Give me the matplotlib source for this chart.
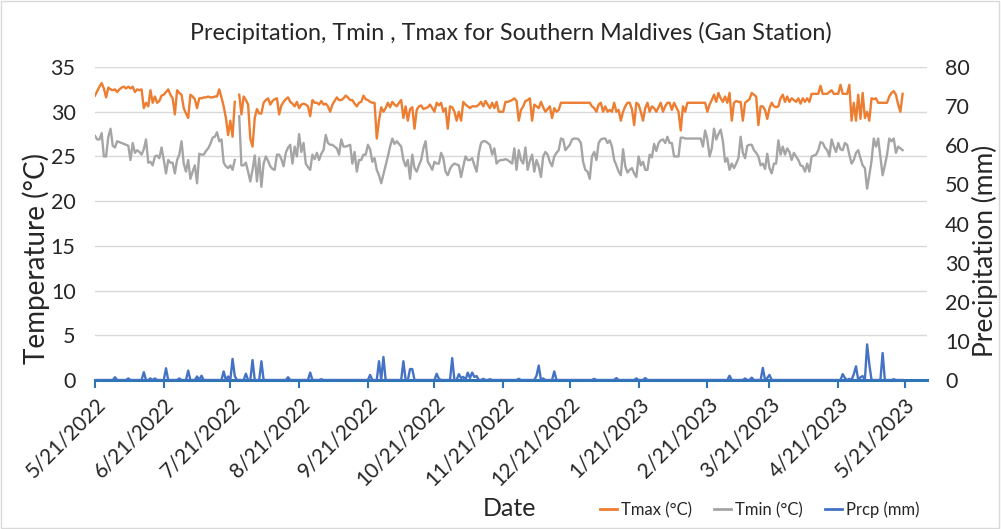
import numpy as np
import pandas as pd
import matplotlib
matplotlib.use("Agg")
import matplotlib.pyplot as plt
from matplotlib.lines import Line2D

nan = float("nan")
start_date = "2022-05-21"

tmax = [
31.8, 32.3, 32.8, 33.2, 32.6, 31.6, 32.7, 32.5, 32.4, 32.5,
32.2, 32.5, 32.7, 32.8, 32.6, 32.8, 32.6, 32.8, 32.2, 32.5,
32.4, 32.5, 30.4, 31.0, 30.6, 32.4, 31.0, 31.7, 31.0, 31.2,
31.8, 31.9, 32.2, 32.5, 31.9, 31.5, 29.7, 32.4, 32.1, 31.9,
30.4, 29.8, 29.3, 31.9, 31.7, 31.4, 30.4, 31.5, 31.5, 31.6,
31.6, 31.7, 31.6, 31.6, 31.7, 31.7, 32.5, 31.6, 30.6, 29.3,
27.4, 29.0, 27.2, 31.1, nan, 31.9, 29.7, 31.7, 31.3, 30.8,
27.0, 26.1, 29.3, 30.3, 29.8, 29.8, 31.0, 31.3, 31.5, 30.8,
31.2, 31.4, 31.5, 29.7, 30.7, 31.1, 31.4, 31.6, 31.1, 30.9,
30.6, 31.1, 30.4, 30.8, 30.9, 30.8, 30.6, 29.5, 31.3, 31.0,
31.0, 30.8, 31.2, 30.8, 30.9, 30.6, 30.0, 30.8, 31.2, 31.6,
31.3, 31.3, 31.5, 31.8, 31.6, 31.3, 31.3, 30.9, 30.6, 31.0,
31.1, 31.8, 31.4, 31.3, 31.1, 31.0, 31.0, 27.0, 29.0, 30.5,
30.0, 30.4, 31.0, 30.5, 31.1, 30.8, 30.6, 31.0, 31.3, 29.3,
30.6, 29.0, 30.3, 30.5, 28.1, 30.2, 30.6, 30.7, 30.3, 30.4,
30.5, 30.8, 30.4, 30.0, 31.0, 30.7, 31.0, 30.0, 30.4, 28.1,
30.6, 30.5, 30.0, 29.0, 30.0, 29.0, 31.1, 30.8, 30.6, 30.4,
30.6, 30.6, 30.6, 30.8, 31.1, 30.6, 31.2, 30.8, 30.4, 31.0,
30.4, 31.1, 30.0, 30.0, 30.0, 31.1, 31.1, 31.2, 31.3, 31.5,
31.2, 29.0, 30.2, 30.6, 31.2, 31.3, 31.5, 29.0, 30.8, 30.6,
30.4, 31.1, 30.5, 30.0, 30.3, 30.6, 29.3, 30.4, 30.0, 30.2,
31.0, 31.0, 31.0, 31.0, 31.0, 31.0, 31.0, 31.0, 31.0, 31.0,
31.0, 31.0, 31.0, 31.0, 30.6, 30.4, 30.0, 30.8, 31.0, 30.0,
30.6, 30.0, 30.2, 30.0, 31.0, 30.0, 30.2, 29.0, 30.0, 30.6,
31.0, 31.0, 30.3, 28.5, 31.0, 30.8, 30.0, 29.0, 30.4, 31.0,
30.0, 30.6, 30.4, 30.0, 30.5, 31.0, 30.0, 30.6, 31.0, 31.0,
30.2, 31.0, 30.5, 30.0, 27.9, 30.6, 30.0, 31.0, 31.0, 31.0,
31.0, 31.0, 31.0, 31.0, 31.0, 31.0, 30.0, 30.8, 31.3, 31.9,
31.1, 32.1, 31.5, 31.1, 31.7, 31.0, 32.1, 29.0, 31.0, 31.2,
31.1, 31.1, 29.0, 31.0, 31.2, 31.4, 32.1, 31.9, 31.7, 28.5,
30.6, 30.6, 30.2, 29.2, 30.4, 31.0, 30.6, 30.5, 30.6, 31.5,
31.9, 31.1, 31.7, 31.1, 31.5, 31.3, 31.1, 31.5, 30.9, 31.5,
31.1, 31.5, 31.1, 32.0, 32.0, 32.0, 32.0, 32.9, 32.0, 32.0,
32.0, 32.2, 32.4, 32.0, 32.0, 32.0, 33.0, 32.0, 32.0, 32.0,
33.0, 29.0, 31.0, 29.0, 31.9, 29.2, 32.1, 29.3, 30.0, 29.0,
31.5, 31.4, 31.5, 31.0, 31.0, 31.0, 31.0, 31.0, 31.7, 32.1,
32.3, 31.9, 30.8, 30.0, 32.0,
]

tmin = [
27.3, 26.9, 26.9, 27.6, 25.0, 25.0, 27.2, 28.1, 26.2, 26.0,
26.7, 26.6, 26.5, 26.4, 26.3, 26.2, 24.6, 26.5, 25.4, 25.7,
25.5, 25.2, 25.8, 26.9, 24.3, 24.4, 24.0, 25.0, 25.1, 24.8,
26.0, 24.6, 23.1, 24.6, 24.3, 24.3, 23.1, 24.6, 25.2, 26.7,
24.2, 23.3, 24.6, 22.5, 23.3, 24.0, 22.0, 25.3, 25.2, 25.2,
25.6, 25.9, 26.4, 27.1, 27.2, 27.7, 26.7, 26.9, 24.3, 23.9,
23.7, 24.0, 23.5, 24.6, nan, 29.5, 24.0, 24.0, 24.3, 23.3,
22.2, 23.5, 25.1, 22.2, 24.8, 21.6, 24.2, 25.0, 24.5, 23.9,
23.6, 23.5, 25.2, 25.2, 24.7, 23.9, 25.4, 26.0, 26.3, 24.2,
26.1, 25.0, 27.5, 25.5, 26.5, 24.2, 23.8, 23.5, 25.2, 24.7,
25.4, 24.6, 25.3, 25.7, 27.4, 26.5, 26.3, 26.3, 26.1, 25.9,
25.2, 26.9, 26.1, 26.1, 26.2, 26.3, 24.2, 25.5, 23.3, 24.6,
24.6, 25.2, 25.2, 26.3, 25.8, 24.4, 24.8, 23.5, 22.9, 22.0,
23.0, 24.0, 25.0, 26.1, 27.0, 26.4, 26.7, 26.4, 26.1, 24.6,
23.9, 24.6, 22.5, 25.2, 23.7, 23.3, 24.0, 24.6, 25.9, 26.7,
24.4, 24.0, 23.5, 24.4, 24.2, 24.2, 25.4, 24.8, 23.3, 22.9,
23.6, 24.0, 24.2, 24.1, 24.0, 22.7, 23.9, 25.0, 24.6, 24.6,
24.8, 24.0, 23.3, 25.4, 26.5, 26.7, 26.7, 26.5, 26.3, 25.2,
25.9, 24.2, 24.5, 24.6, 24.6, 24.7, 24.6, 24.4, 24.2, 25.9,
23.5, 25.7, 24.6, 24.2, 26.0, 23.5, 24.5, 25.2, 23.3, 24.6,
23.9, 22.7, 25.0, 25.5, 25.2, 24.4, 23.9, 25.0, 25.4, 25.7,
27.0, 26.9, 25.7, 26.0, 26.3, 26.9, 27.0, 27.0, 26.9, 26.5,
24.4, 23.5, 23.3, 22.5, 25.0, 25.5, 24.6, 26.5, 26.9, 27.0,
27.0, 26.5, 26.8, 26.1, 24.6, 24.0, 23.3, 22.9, 25.8, 23.9,
23.2, 23.5, 23.7, 23.1, 22.7, 25.0, 24.0, 24.4, 23.5, 23.5,
25.2, 24.9, 26.4, 25.6, 26.5, 26.8, 26.9, 26.5, 27.2, 26.5,
26.5, 25.0, 25.0, 25.0, 27.1, 27.1, 27.0, 27.0, 27.0, 27.0,
27.0, 27.0, 27.0, 27.0, 26.1, 27.9, 26.9, 25.0, 25.9, 28.1,
26.9, 27.5, 28.0, 26.7, 24.4, 24.8, 23.5, 24.2, 23.7, 24.2,
24.8, 27.2, 25.4, 24.8, 26.2, 26.3, 26.3, 25.7, 25.4, 25.0,
24.0, 24.2, 23.6, 25.3, 23.7, 23.1, 24.2, 24.2, 26.8, 25.2,
26.1, 25.2, 25.9, 25.5, 24.6, 25.4, 25.0, 24.6, 24.0, 23.9,
23.3, 24.2, 23.3, 25.0, 25.1, 25.2, 25.7, 26.6, 26.5, 26.0,
25.7, 25.0, 26.9, 26.1, 25.5, 26.5, 25.8, 25.7, 26.5, 26.3,
25.2, 24.2, 24.6, 25.4, 25.7, 24.8, 24.0, 23.7, 21.4, 22.9,
24.5, 27.0, 26.1, 27.0, 25.0, 22.9, 24.0, 25.2, 27.0, 26.7,
27.0, 25.4, 26.1, 25.9, 25.7,
]

# wet days (day index from start) and their rainfall; all other days are dry (0 mm)
rain_days = [9, 15, 22, 25, 27, 32, 38, 42, 46, 48, 58, 60, 62, 63, 68, 71, 75,
             87, 97, 102, 124, 128, 130, 139, 142, 143, 154, 155, 161, 164, 165,
             166, 168, 169, 170, 171, 172, 175, 178, 191, 199, 200, 202, 207,
             225, 235, 244, 248, 286, 293, 296, 301, 303, 304, 337, 338, 340,
             342, 343, 345, 346, 348, 349, 355, 360]
rain_mm = [0.7, 0.4, 2.0, 0.4, 0.4, 3.0, 0.4, 2.4, 0.9, 1.1, 2.2, 0.9, 5.4, 1.0, 1.6, 5.1, 4.8,
           0.7, 1.9, 0.2, 1.3, 4.8, 5.9, 4.8, 2.8, 2.8, 1.6, 0.3, 5.6, 1.5, 0.5,
           0.8, 1.9, 0.5, 1.9, 0.8, 1.0, 0.3, 0.2, 0.3, 1.1, 3.7, 0.4, 2.2,
           0.3, 0.5, 0.4, 0.5, 1.1, 0.4, 0.6, 3.1, 0.5, 1.3, 1.5, 0.5, 0.3,
           1.5, 3.5, 0.7, 1.0, 9.1, 4.0, 6.9, 0.2]

tick_dates = ["2022-05-21", "2022-06-21", "2022-07-21", "2022-08-21", "2022-09-21",
              "2022-10-21", "2022-11-21", "2022-12-21", "2023-01-21", "2023-02-21",
              "2023-03-21", "2023-04-21", "2023-05-21"]
tick_labels = ["5/21/2022", "6/21/2022", "7/21/2022", "8/21/2022", "9/21/2022",
               "10/21/2022", "11/21/2022", "12/21/2022", "1/21/2023", "2/21/2023",
               "3/21/2023", "4/21/2023", "5/21/2023"]

dates = pd.date_range(start_date, periods=len(tmax), freq="D")
prcp = pd.Series(0.0, index=dates)
prcp.iloc[rain_days] = rain_mm

plt.rcParams["font.family"] = ["Lato", "DejaVu Sans"]
TXT = "#262626"

fig = plt.figure(figsize=(10.01, 5.29), dpi=100)
ax = fig.add_axes([95/1001, 1 - 380/529, (927-95)/1001, (380-67)/529])
ax2 = ax.twinx()

ax.plot(dates, tmax, color="#ED7D31", lw=1.7, zorder=3)
ax.plot(dates, tmin, color="#A5A5A5", lw=1.7, zorder=3)
ax2.plot(dates, prcp.values, color="#4472C4", lw=1.7, zorder=3)

x0 = pd.Timestamp(start_date)
ax.set_xlim(x0, x0 + pd.Timedelta(days=375))
ax.set_ylim(0, 35)
ax2.set_ylim(0, 80)
ax.set_yticks(np.arange(0, 36, 5))
ax2.set_yticks(np.arange(0, 81, 10))
ax.yaxis.grid(True, color="#D9D9D9", lw=1)
ax.set_axisbelow(True)

ax.set_xticks(pd.to_datetime(tick_dates))
ax.set_xticklabels(tick_labels, rotation=45, ha="right", va="top",
                   rotation_mode="anchor", fontsize=15, color=TXT)
ax.tick_params(axis="x", direction="out", length=6, width=1.5, color="#2E75B6", pad=4)
ax.tick_params(axis="y", length=0, labelsize=15.5, labelcolor=TXT, pad=14)
ax2.tick_params(axis="y", length=0, labelsize=15.5, labelcolor=TXT, pad=13)

for a in (ax, ax2):
    for s in ("top", "right", "left", "bottom"):
        a.spines[s].set_visible(False)
ax.spines["bottom"].set_visible(True)
ax.spines["bottom"].set_color("#2E75B6")
ax.spines["bottom"].set_linewidth(2.2)

# label centres: left at x~36, right at x~985 (pixels)
ax.set_ylabel("Temperature (°C)", fontsize=20, color=TXT)
ax.yaxis.label.set_ha("center")
ax.yaxis.label.set_va("center")
ax.yaxis.set_label_coords((36 - 95) / 832, (380 - 258) / 313)
ax2.set_ylabel("Precipitation (mm)", fontsize=19, color=TXT)
ax2.yaxis.label.set_ha("center")
ax2.yaxis.label.set_va("center")
ax2.yaxis.set_label_coords((985 - 95) / 832, (380 - 251) / 313)

fig.suptitle("Precipitation, Tmin , Tmax for Southern Maldives (Gan Station)",
             x=0.51, y=1 - 33/529, va="center", fontsize=16.8, color=TXT)
fig.text(510/1001, 1 - 509/529, "Date", ha="center", va="center", fontsize=18, color=TXT)

handles = [Line2D([], [], color="#ED7D31", lw=2),
           Line2D([], [], color="#A5A5A5", lw=2),
           Line2D([], [], color="#4472C4", lw=2)]
fig.legend(handles, ["Tmax (°C)", "Tmin (°C)", "Prcp (mm)"], loc="center left",
           bbox_to_anchor=(600/1001, 1 - 510/529), ncol=3, frameon=False,
           fontsize=12, handlelength=1.0, handletextpad=0.25, columnspacing=1.35,
           labelcolor=TXT, borderaxespad=0, borderpad=0)

fig.patches.append(plt.Rectangle((0.001, 0.001), 0.997, 0.997, transform=fig.transFigure,
                                 fill=False, edgecolor="#D9D9D9", lw=1))

fig.savefig("out.png", dpi=100)
